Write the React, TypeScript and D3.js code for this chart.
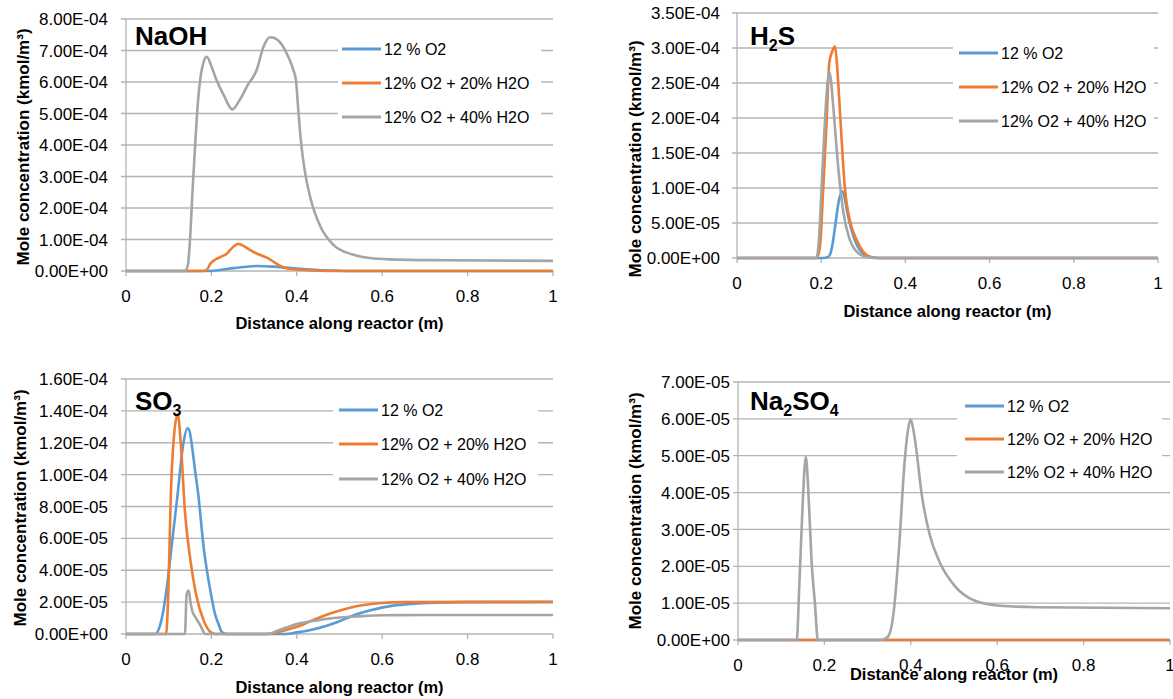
import React from "react";
import * as d3 from "d3";

type Pt = [number, number];

// ---------- Data ----------
const seriesNames = ["12 % O2", "12% O2 + 20% H2O", "12% O2 + 40% H2O"];
const seriesColors = ["#5B9BD5", "#ED7D31", "#A5A5A5"];

const xTickValues = [0, 0.2, 0.4, 0.6, 0.8, 1];
const xTickLabels = ["0", "0.2", "0.4", "0.6", "0.8", "1"];

const naohYTicks = [0, 1e-4, 2e-4, 3e-4, 4e-4, 5e-4, 6e-4, 7e-4, 8e-4];
const h2sYTicks = [0, 0.5e-4, 1e-4, 1.5e-4, 2e-4, 2.5e-4, 3e-4, 3.5e-4];
const so3YTicks = [0, 2e-5, 4e-5, 6e-5, 8e-5, 1e-4, 1.2e-4, 1.4e-4, 1.6e-4];
const na2so4YTicks = [0, 1e-5, 2e-5, 3e-5, 4e-5, 5e-5, 6e-5, 7e-5];

// NaOH
const naohO2: Pt[] = [[0, 0], [0.195, 0], [0.22, 0.03e-4], [0.251, 0.09e-4], [0.28, 0.13e-4], [0.306, 0.16e-4], [0.345, 0.14e-4], [0.38, 0.1e-4], [0.407, 0.07e-4], [0.45, 0.03e-4], [0.5, 0.01e-4], [0.55, 0], [1, 0]];
const naohH2O20: Pt[] = [[0, 0], [0.18, 0], [0.19, 0.05e-4], [0.197, 0.22e-4], [0.208, 0.35e-4], [0.222, 0.45e-4], [0.236, 0.55e-4], [0.25, 0.75e-4], [0.263, 0.86e-4], [0.275, 0.8e-4], [0.29, 0.67e-4], [0.31, 0.53e-4], [0.329, 0.43e-4], [0.345, 0.3e-4], [0.36, 0.17e-4], [0.375, 0.09e-4], [0.407, 0.04e-4], [0.45, 0.01e-4], [0.5, 0], [1, 0]];
const naohH2O40: Pt[] = [[0, 0], [0.138, 0], [0.145, 0.2e-4], [0.15, 1.0e-4], [0.156, 2.6e-4], [0.162, 4.0e-4], [0.168, 5.3e-4], [0.175, 6.2e-4], [0.182, 6.65e-4], [0.189, 6.8e-4], [0.2, 6.5e-4], [0.212, 6.06e-4], [0.23, 5.55e-4], [0.249, 5.13e-4], [0.265, 5.4e-4], [0.285, 5.9e-4], [0.306, 6.38e-4], [0.322, 7.12e-4], [0.337, 7.42e-4], [0.35, 7.38e-4], [0.365, 7.18e-4], [0.38, 6.8e-4], [0.392, 6.38e-4], [0.398, 6.05e-4], [0.403, 5.2e-4], [0.407, 4.5e-4], [0.417, 3.32e-4], [0.433, 2.26e-4], [0.455, 1.42e-4], [0.485, 0.84e-4], [0.529, 0.53e-4], [0.572, 0.41e-4], [0.616, 0.37e-4], [0.75, 0.34e-4], [1, 0.32e-4]];

// H2S
const h2sO2: Pt[] = [[0, 0], [0.205, 0], [0.215, 0.01e-4], [0.221, 0.05e-4], [0.227, 0.2e-4], [0.233, 0.45e-4], [0.243, 0.85e-4], [0.251, 0.95e-4], [0.256, 0.85e-4], [0.262, 0.65e-4], [0.272, 0.4e-4], [0.282, 0.22e-4], [0.292, 0.11e-4], [0.305, 0.04e-4], [0.32, 0.01e-4], [0.34, 0], [1, 0]];
const h2sH2O20: Pt[] = [[0, 0], [0.189, 0], [0.197, 0.16e-4], [0.205, 1.02e-4], [0.213, 1.97e-4], [0.219, 2.78e-4], [0.226, 2.95e-4], [0.233, 3.02e-4], [0.237, 2.8e-4], [0.241, 2.45e-4], [0.249, 1.64e-4], [0.256, 1.02e-4], [0.268, 0.54e-4], [0.284, 0.26e-4], [0.3, 0.09e-4], [0.315, 0.02e-4], [0.33, 0], [1, 0]];
const h2sH2O40: Pt[] = [[0, 0], [0.189, 0], [0.195, 0.3e-4], [0.201, 1.02e-4], [0.209, 1.97e-4], [0.215, 2.5e-4], [0.219, 2.66e-4], [0.223, 2.55e-4], [0.228, 2.21e-4], [0.241, 1.26e-4], [0.253, 0.64e-4], [0.268, 0.26e-4], [0.28, 0.12e-4], [0.292, 0.05e-4], [0.31, 0.01e-4], [0.33, 0], [1, 0]];

// SO3
const so3O2: Pt[] = [[0, 0], [0.068, 0], [0.078, 0.4e-5], [0.086, 1.26e-5], [0.095, 2.8e-5], [0.103, 4.6e-5], [0.112, 6.7e-5], [0.121, 8.8e-5], [0.134, 1.19e-4], [0.144, 1.29e-4], [0.148, 1.28e-4], [0.155, 1.17e-4], [0.162, 1.02e-4], [0.169, 8.8e-5], [0.182, 5.4e-5], [0.199, 2.5e-5], [0.208, 1.3e-5], [0.217, 0.6e-5], [0.225, 0.1e-5], [0.235, 0], [0.37, 0], [0.4, 0.1e-5], [0.44, 0.3e-5], [0.47, 0.52e-5], [0.5, 0.8e-5], [0.531, 1.15e-5], [0.575, 1.5e-5], [0.618, 1.75e-5], [0.66, 1.87e-5], [0.706, 1.95e-5], [0.8, 2.0e-5], [1, 2.0e-5]];
const so3H2O20: Pt[] = [[0, 0], [0.094, 0], [0.099, 2.5e-5], [0.105, 8.8e-5], [0.112, 1.23e-4], [0.121, 1.38e-4], [0.129, 1.17e-4], [0.138, 7.7e-5], [0.151, 4.6e-5], [0.164, 2.5e-5], [0.182, 0.84e-5], [0.199, 0.1e-5], [0.21, 0], [0.33, 0], [0.36, 0.15e-5], [0.4, 0.45e-5], [0.44, 0.9e-5], [0.48, 1.3e-5], [0.52, 1.62e-5], [0.56, 1.83e-5], [0.6, 1.95e-5], [0.65, 2.0e-5], [1, 2.02e-5]];
const so3H2O40: Pt[] = [[0, 0], [0.138, 0], [0.142, 2.5e-5], [0.147, 2.72e-5], [0.151, 2.0e-5], [0.155, 1.46e-5], [0.164, 1.0e-5], [0.173, 0.6e-5], [0.186, 0], [0.33, 0], [0.365, 0.31e-5], [0.4, 0.63e-5], [0.444, 0.84e-5], [0.487, 1.0e-5], [0.54, 1.1e-5], [0.6, 1.18e-5], [0.7, 1.19e-5], [1, 1.19e-5]];

// Na2SO4
const na2so4O2: Pt[] = [[0, 0], [1, 0]];
const na2so4H2O20: Pt[] = [[0, 0], [1, 0]];
const na2so4H2O40: Pt[] = [[0, 0], [0.136, 0], [0.142, 1.5e-5], [0.149, 3.5e-5], [0.157, 4.97e-5], [0.163, 4.0e-5], [0.17, 2.2e-5], [0.178, 1.0e-5], [0.185, 0], [0.33, 0], [0.347, 0.09e-5], [0.36, 0.72e-5], [0.373, 2.53e-5], [0.386, 4.88e-5], [0.395, 5.8e-5], [0.4, 5.98e-5], [0.406, 5.7e-5], [0.412, 5.24e-5], [0.425, 3.97e-5], [0.443, 2.89e-5], [0.468, 2.08e-5], [0.503, 1.45e-5], [0.546, 1.08e-5], [0.607, 0.93e-5], [0.693, 0.89e-5], [1, 0.86e-5]];

// ---------- Helpers ----------
const FONT = "'Liberation Sans', Arial, sans-serif";

function fmtE(v: number): string {
  const [m, e] = v.toExponential(2).split("e");
  const n = parseInt(e, 10);
  return m + "E" + (n < 0 ? "-" : "+") + String(Math.abs(n)).padStart(2, "0");
}

type TitlePart = { t: string; sub?: boolean };

interface PanelProps {
  left: number;
  right: number;
  top: number;
  bottom: number;
  yTicks: number[];
  series: Pt[][];
  title: TitlePart[];
  titleX: number;
  titleY: number;
  legendX: number;
  legendRows: number[];
  legendBox: [number, number, number, number];
  yTitleX: number;
  yTitleY: number;
  yLabelGap: number;
  xTitleY: number;
}

function Panel(p: PanelProps) {
  const x = d3.scaleLinear().domain([0, 1]).range([p.left, p.right]);
  const yMax = p.yTicks[p.yTicks.length - 1];
  const y = d3.scaleLinear().domain([0, yMax]).range([p.bottom, p.top]);
  const line = d3
    .line<Pt>()
    .x((d) => x(d[0]))
    .y((d) => y(d[1]))
    .curve(d3.curveMonotoneX);
  const grid = "#b4b4b4";
  const [bx0, by0, bx1, by1] = p.legendBox;
  return (
    <g>
      {p.yTicks.map((t, i) => (
        <g key={"g" + i}>
          <line x1={p.left - 5} x2={p.right} y1={y(t)} y2={y(t)} stroke={grid} strokeWidth={1.3} />
          <text
            x={p.left - p.yLabelGap}
            y={y(t)}
            dy="0.36em"
            textAnchor="end"
            fontSize={17}
            fontFamily={FONT}
            fill="#000"
          >
            {fmtE(t)}
          </text>
        </g>
      ))}
      <line x1={p.left} x2={p.left} y1={p.top} y2={p.bottom} stroke={grid} strokeWidth={1.3} />
      {xTickValues.map((t, i) => (
        <g key={"x" + i}>
          <line x1={x(t)} x2={x(t)} y1={p.bottom} y2={p.bottom + 5} stroke={grid} strokeWidth={1.3} />
          <text
            x={x(t)}
            y={p.bottom + 31}
            textAnchor="middle"
            fontSize={17}
            fontFamily={FONT}
            fill="#000"
          >
            {xTickLabels[i]}
          </text>
        </g>
      ))}
      {p.series.map((s, i) => (
        <path key={"s" + i} d={line(s) || ""} fill="none" stroke={seriesColors[i]} strokeWidth={2.6} strokeLinejoin="round" />
      ))}
      <rect x={bx0} y={by0} width={bx1 - bx0} height={by1 - by0} fill="#fff" />
      {seriesNames.map((n, i) => (
        <g key={"l" + i}>
          <line
            x1={p.legendX}
            x2={p.legendX + 39}
            y1={p.legendRows[i]}
            y2={p.legendRows[i]}
            stroke={seriesColors[i]}
            strokeWidth={3}
          />
          <text
            x={p.legendX + 42}
            y={p.legendRows[i]}
            dy="0.36em"
            fontSize={16}
            fontFamily={FONT}
            fill="#000"
          >
            {n}
          </text>
        </g>
      ))}
      <text x={p.titleX} y={p.titleY} fontSize={26} fontWeight="bold" fontFamily={FONT} fill="#000">
        {p.title.map((tp, i) =>
          tp.sub ? (
            <tspan key={i} fontSize={16} dy={6}>
              {tp.t}
            </tspan>
          ) : (
            <tspan key={i} dy={i > 0 && p.title[i - 1].sub ? -6 : 0}>
              {tp.t}
            </tspan>
          )
        )}
      </text>
      <text
        transform={`translate(${p.yTitleX},${p.yTitleY}) rotate(-90)`}
        textAnchor="middle"
        fontSize={17}
        fontWeight="bold"
        fontFamily={FONT}
        fill="#000"
      >
        Mole concentration (kmol/m³)
      </text>
      <text
        x={(p.left + p.right) / 2}
        y={p.xTitleY}
        textAnchor="middle"
        fontSize={16.5}
        fontWeight="bold"
        fontFamily={FONT}
        fill="#000"
      >
        Distance along reactor (m)
      </text>
    </g>
  );
}

export default function App() {
  return (
    <svg
      width={1173}
      height={699}
      style={{ position: "absolute", left: 0, top: 0, background: "#fff" }}
    >
      <rect x={0} y={0} width={1173} height={699} fill="#fff" />
      <Panel
        left={126}
        right={553}
        top={19}
        bottom={271}
        yTicks={naohYTicks}
        series={[naohO2, naohH2O20, naohH2O40]}
        title={[{ t: "NaOH" }]}
        titleX={135}
        titleY={45}
        legendX={342}
        legendRows={[49, 83, 117]}
        legendBox={[338, 32, 541, 132]}
        yTitleX={29}
        yTitleY={147}
        yLabelGap={18}
        xTitleY={329}
      />
      <Panel
        left={737}
        right={1158}
        top={13}
        bottom={258}
        yTicks={h2sYTicks}
        series={[h2sO2, h2sH2O20, h2sH2O40]}
        title={[{ t: "H" }, { t: "2", sub: true }, { t: "S" }]}
        titleX={750}
        titleY={45}
        legendX={959}
        legendRows={[53, 87, 121]}
        legendBox={[953, 36, 1154, 136]}
        yTitleX={641}
        yTitleY={159}
        yLabelGap={17}
        xTitleY={317}
      />
      <Panel
        left={126}
        right={553}
        top={379}
        bottom={634}
        yTicks={so3YTicks}
        series={[so3O2, so3H2O20, so3H2O40]}
        title={[{ t: "SO" }, { t: "3", sub: true }]}
        titleX={135}
        titleY={410}
        legendX={339}
        legendRows={[410, 444, 479]}
        legendBox={[333, 393, 538, 492]}
        yTitleX={26}
        yTitleY={508}
        yLabelGap={18}
        xTitleY={693}
      />
      <Panel
        left={738}
        right={1170}
        top={382}
        bottom={640}
        yTicks={na2so4YTicks}
        series={[na2so4O2, na2so4H2O20, na2so4H2O40]}
        title={[{ t: "Na" }, { t: "2", sub: true }, { t: "SO" }, { t: "4", sub: true }]}
        titleX={750}
        titleY={410}
        legendX={965}
        legendRows={[406, 439, 472]}
        legendBox={[957, 389, 1162, 486]}
        yTitleX={641}
        yTitleY={511}
        yLabelGap={8}
        xTitleY={680}
      />
    </svg>
  );
}
